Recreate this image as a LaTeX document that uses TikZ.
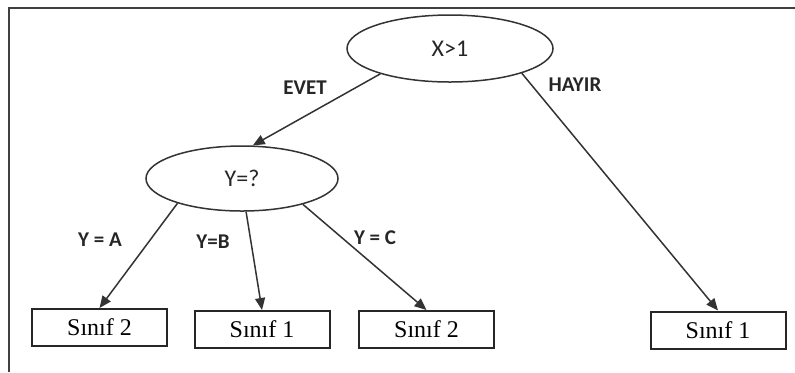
\documentclass[tikz,border=0pt]{standalone}
\usepackage{fontspec}
\setmainfont{Liberation Serif}
\newfontfamily\lblfont{Carlito}
\usetikzlibrary{arrows.meta,shapes.geometric}

\begin{document}
\begin{tikzpicture}[x=0.5pt,y=-0.5pt,
    test/.style={draw=black!80, ellipse, line width=0.75pt, inner sep=0pt, font=\lblfont\fontsize{12}{14}\selectfont, text=black!85},
    leaf/.style={draw=black!85, rectangle, line width=1pt, inner sep=0pt, minimum width=67.5pt, minimum height=18.5pt, font=\fontsize{12}{14}\selectfont},
    edge/.style={draw=black!80, line width=0.75pt, -{Triangle[length=6pt,width=5pt]}},
    cond/.style={font=\lblfont\bfseries\fontsize{10.5}{12}\selectfont, text=black!85, inner sep=0pt}]
    \useasboundingbox (0,0) rectangle (795,372);
    \draw[line width=1pt, black!75] (795,8) -- (9,8) -- (9,372);

    \node[test, minimum width=103pt, minimum height=33.5pt] (X) at (450,48.5) {X>1};
    \node[test, minimum width=96pt, minimum height=32.5pt] (Y) at (242,178.5) {Y=?};

    \node[leaf] (L1) at (99.5,327.5) {Sınıf 2};
    \node[leaf] (L2) at (262,329.5) {Sınıf 1};
    \node[leaf] (L3) at (426.5,329.5) {Sınıf 2};
    \node[leaf] (L4) at (718,330) {Sınıf 1};

    \draw[edge] (X.200) -- (Y.72);
    \draw[edge] (X.341) -- (L4.north);
    \draw[edge] (Y.201) -- (L1.north);
    \draw[edge] (Y.277) -- (L2.north);
    \draw[edge] (Y.337) -- (L3.north);

    \node[cond] (evet) at (305,88) {EVET};
    \node[cond] (hayir) at (575,85) {HAYIR};
    \node[cond] (ya) at (100,240) {Y = A};
    \node[cond] (yb) at (213,242) {Y=B};
    \node[cond] (yc) at (375,238) {Y = C};
\end{tikzpicture}
\end{document}
